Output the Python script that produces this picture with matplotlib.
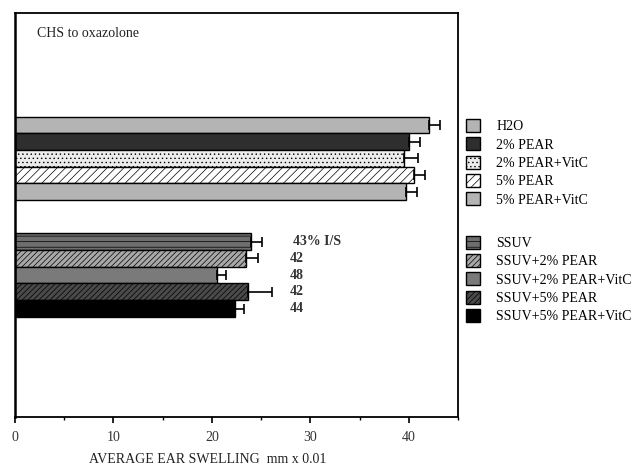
import numpy as np
import matplotlib
matplotlib.use('Agg')
import matplotlib.pyplot as plt
from matplotlib.patches import Patch

plt.rcParams['font.family'] = ['Liberation Serif', 'DejaVu Serif']
plt.rcParams['hatch.linewidth'] = 0.5

# grupo sem UV
grupo1 = ['H2O', '2% PEAR', '2% PEAR+VitC', '5% PEAR', '5% PEAR+VitC']
media1 = [42.1, 40.0, 39.5, 40.5, 39.7]
erro1 = [1.1, 1.1, 1.4, 1.1, 1.1]

# grupo SSUV
grupo2 = ['SSUV', 'SSUV+2% PEAR', 'SSUV+2% PEAR+VitC', 'SSUV+5% PEAR', 'SSUV+5% PEAR+VitC']
media2 = [24.0, 23.5, 20.5, 23.7, 22.3]
erro2 = [1.1, 1.2, 0.9, 2.4, 1.0]
rotulos2 = ['43% I/S', '42', '48', '42', '44']

cores1 = ['#b4b4b4', '#2e2e2e', '#ececec', '#ffffff', '#b4b4b4']
hach1 = ['', '', '....', '////', '']
cores2 = ['#6e6e6e', '#a8a8a8', '#7a7a7a', '#4a4a4a', '#000000']
hach2 = ['---', '//////', '', '//////', '']

fig = plt.figure(figsize=(6.32, 4.67), dpi=100)
ax = fig.add_axes([0.0237, 0.107, 0.701, 0.865])

pos1 = np.array([17.5, 16.5, 15.5, 14.5, 13.5])
pos2 = np.array([10.5, 9.5, 8.5, 7.5, 6.5])

for i in range(5):
    ax.barh(pos1[i], media1[i], height=1.0, color=cores1[i], hatch=hach1[i],
            edgecolor='black', linewidth=1.0)
    ax.barh(pos2[i], media2[i], height=1.0, color=cores2[i], hatch=hach2[i],
            edgecolor='black', linewidth=1.0)

ax.errorbar(media1, pos1, xerr=[np.zeros(5), erro1], fmt='none', ecolor='black',
            elinewidth=1.2, capsize=3.5, capthick=1.2)
ax.errorbar(media2, pos2, xerr=[np.zeros(5), erro2], fmt='none', ecolor='black',
            elinewidth=1.2, capsize=3.5, capthick=1.2)

for i, r in enumerate(rotulos2):
    xr = 28.2 if i == 0 else 27.9
    ax.text(xr, pos2[i], r, fontsize=10, fontweight='bold', color='#333333',
            va='center', ha='left')

ax.text(2.2, 22.95, 'CHS to oxazolone', fontsize=10, color='#222222', va='center')

ax.set_xlim(0, 45)
ax.set_ylim(0, 24.2)
ax.set_yticks([])
ax.set_xticks([0, 10, 20, 30, 40])
ax.set_xticks([5, 15, 25, 35, 45], minor=True)
ax.tick_params(axis='x', direction='out', length=4, width=1.2, labelsize=10,
               pad=6, labelcolor='#333333')
ax.tick_params(axis='x', which='minor', direction='out', length=2.5, width=1.0)
for s in ax.spines.values():
    s.set_linewidth(1.3)
ax.spines['left'].set_linewidth(1.8)

fig.text(0.141, 0.015, 'AVERAGE EAR SWELLING  mm x 0.01', fontsize=10,
         color='#222222', ha='left', va='center')

h1 = [Patch(facecolor=cores1[i], hatch=hach1[i], edgecolor='black') for i in range(5)]
h2 = [Patch(facecolor=cores2[i], hatch=hach2[i], edgecolor='black') for i in range(5)]
leg1 = fig.legend(h1, grupo1, loc='upper left', bbox_to_anchor=(0.728, 0.757),
                  frameon=False, fontsize=10, handlelength=1.05, handleheight=1.05,
                  labelspacing=0.3, handletextpad=1.15, borderaxespad=0)
leg2 = fig.legend(h2, grupo2, loc='upper left', bbox_to_anchor=(0.728, 0.507),
                  frameon=False, fontsize=10, handlelength=1.05, handleheight=1.05,
                  labelspacing=0.3, handletextpad=1.15, borderaxespad=0)

fig.savefig('out.png', dpi=100)
